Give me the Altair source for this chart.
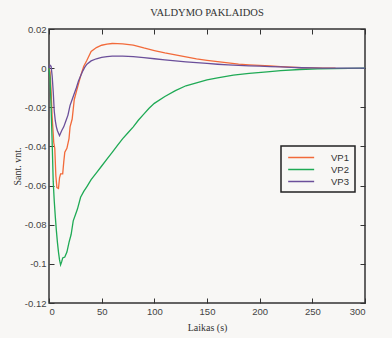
import altair as alt
import pandas as pd

# VP1 (orange)
t_vp1 = [0, 1, 2, 3, 4.5, 5.5, 6.5, 7.5, 9, 10, 11, 13, 14, 15, 17, 19, 20, 22, 24, 26, 28, 30, 33, 36,
         40, 45, 50, 55, 60, 65, 70, 80, 90, 100, 110, 120, 130, 140, 150, 160, 170, 180, 190, 200,
         210, 220, 230, 240, 250, 260, 272]
v_vp1 = [0, -0.002, -0.012, -0.025, -0.038, -0.041, -0.055, -0.061, -0.0615, -0.056, -0.054, -0.054,
         -0.048, -0.043, -0.041, -0.036, -0.030, -0.026, -0.016, -0.012, -0.008, -0.004, 0.001, 0.004,
         0.0085, 0.0105, 0.0117, 0.0123, 0.0126, 0.0125, 0.0124, 0.0118, 0.0103, 0.0090, 0.0078, 0.0068,
         0.0058, 0.0047, 0.0040, 0.0033, 0.0027, 0.0021, 0.0017, 0.0014, 0.0011, 0.0008, 0.0005, 0.0002,
         0.0001, 0.0, 0.0]

# VP2 (green)
t_vp2 = [0, 1, 2, 3, 4, 5, 6, 7, 8, 9, 10, 11, 12, 13, 15, 17, 19, 21, 23, 25, 27, 30, 33, 36, 40, 45,
         50, 55, 60, 65, 70, 75, 80, 85, 90, 95, 100, 110, 120, 130, 140, 150, 160, 175, 190, 207, 220,
         238, 255, 270, 300]
v_vp2 = [0, -0.005, -0.020, -0.038, -0.058, -0.068, -0.076, -0.083, -0.089, -0.094, -0.098, -0.1005,
         -0.099, -0.097, -0.0965, -0.094, -0.089, -0.085, -0.078, -0.075, -0.072, -0.066, -0.063, -0.0605,
         -0.057, -0.0535, -0.050, -0.0465, -0.043, -0.0395, -0.036, -0.033, -0.030, -0.0265, -0.0235,
         -0.0205, -0.018, -0.0145, -0.0115, -0.009, -0.0075, -0.006, -0.005, -0.0036, -0.0027, -0.0019,
         -0.0013, -0.0007, -0.0004, -0.0002, 0.0]

# VP3 (purple)
t_vp3 = [0, 1, 2, 3, 4, 5, 6, 7, 8, 10, 12, 14, 16, 18, 20, 22, 24, 26, 28, 30, 32, 34, 36, 40, 45, 50,
         55, 60, 70, 80, 90, 100, 110, 120, 130, 140, 150, 160, 170, 180, 190, 200, 210, 220, 230, 240,
         250, 260, 300]
v_vp3 = [0.0, 0.0015, 0.001, -0.004, -0.012, -0.022, -0.027, -0.030, -0.032, -0.0345, -0.032, -0.030,
         -0.027, -0.024, -0.019, -0.016, -0.013, -0.010, -0.0065, -0.004, -0.0015, 0.0005, 0.002, 0.0037,
         0.0048, 0.0055, 0.0059, 0.0061, 0.0061, 0.0059, 0.0054, 0.0048, 0.0042, 0.0037, 0.0032, 0.0028,
         0.0024, 0.0020, 0.0017, 0.0014, 0.0012, 0.0010, 0.0008, 0.0006, 0.0004, 0.0002, 0.0001, 0.0, 0.0]

series_names = ["VP1", "VP2", "VP3"]
series_colors = ["#f26a3a", "#1faa55", "#6b4f9a"]
x_ticks = [0, 50, 100, 150, 200, 250, 300]
y_ticks = [0.02, 0, -0.02, -0.04, -0.06, -0.08, -0.1, -0.12]

rows = []
for name, ts, vs in [("VP1", t_vp1, v_vp1), ("VP2", t_vp2, v_vp2), ("VP3", t_vp3, v_vp3)]:
    for i, (t, v) in enumerate(zip(ts, vs)):
        rows.append({"series": name, "t": t, "v": v, "i": i})
df = pd.DataFrame(rows)

BG = "#f8f7f5"
xscale = alt.Scale(domain=[0, 300], nice=False, zero=False)
yscale = alt.Scale(domain=[-0.12, 0.02], nice=False, zero=False)

common = dict(domain=False, grid=False, tickSize=5, offset=-5, tickColor="#333", tickWidth=1,
              labelFont="Liberation Sans", labelFontSize=9.5, labelColor="#444",
              titleFont="Liberation Serif", titleFontSize=10, titleFontWeight="normal",
              titleColor="#333")

lines = alt.Chart(df).mark_line(strokeWidth=1.3).encode(
    x=alt.X("t:Q", scale=xscale,
            axis=alt.Axis(values=x_ticks, title="Laikas (s)", orient="bottom",
                          labelPadding=3, titlePadding=7, **common)),
    y=alt.Y("v:Q", scale=yscale,
            axis=alt.Axis(values=y_ticks, title="Sant. vnt.", orient="left",
                          labelExpr="'' + datum.value", labelPadding=3, titlePadding=2,
                          **common)),
    color=alt.Color("series:N",
                    scale=alt.Scale(domain=series_names, range=series_colors),
                    legend=alt.Legend(title=None, orient="none", legendX=232, legendY=117,
                                      symbolType="M-1,0H5", symbolSize=75,
                                      symbolStrokeWidth=1.5, labelOffset=33,
                                      labelFont="Liberation Sans", labelFontSize=9.5,
                                      labelColor="#333", rowPadding=2, padding=6,
                                      strokeColor="#222", fillColor=BG)),
    order="i:Q",
)

frame_axes = alt.Chart(df).mark_line(opacity=0).encode(
    x=alt.X("t:Q", scale=xscale,
            axis=alt.Axis(values=x_ticks, title=None, orient="top", labels=False, **common)),
    y=alt.Y("v:Q", scale=yscale,
            axis=alt.Axis(values=y_ticks, title=None, orient="right", labels=False, **common)),
    detail="series:N",
)

chart = alt.layer(lines, frame_axes).resolve_axis(
    x="independent", y="independent"
).properties(
    width=316, height=274,
    title=alt.TitleParams("VALDYMO PAKLAIDOS", font="Liberation Serif", fontSize=10.5,
                          fontWeight="normal", color="#333", offset=6),
    autosize=alt.AutoSizeParams(type="none"),
    padding={"left": 49, "top": 29, "right": 27, "bottom": 35},
    background=BG,
).configure_view(stroke="#333", strokeWidth=1.5, fill=BG).configure_legend(strokeWidth=1.5)

chart.save("out.html", embed_options={"renderer": "svg", "actions": False})
